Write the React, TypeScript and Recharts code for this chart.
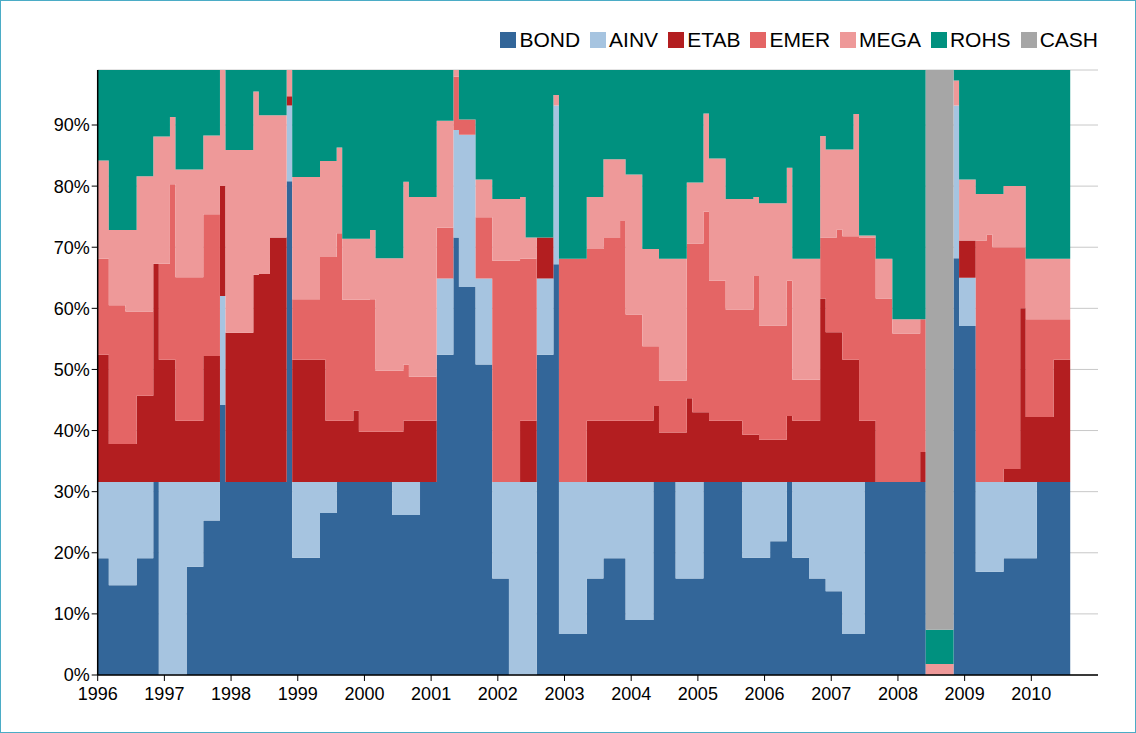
import { AreaChart, Area, XAxis, YAxis, CartesianGrid } from "recharts"

// month of each allocation change (values hold until the next date)
const dates = [
  "1996-01", "1996-03", "1996-06", "1996-08", "1996-11", "1996-12", "1997-02", "1997-03", "1997-05", "1997-08",
  "1997-11", "1997-12", "1998-05", "1998-06", "1998-08", "1998-11", "1998-12", "1999-05", "1999-06", "1999-08",
  "1999-09", "1999-11", "1999-12", "2000-02", "2000-03", "2000-06", "2000-08", "2000-09", "2000-11", "2001-02",
  "2001-05", "2001-06", "2001-09", "2001-12", "2002-03", "2002-05", "2002-06", "2002-08", "2002-11", "2002-12",
  "2003-05", "2003-08", "2003-11", "2003-12", "2004-03", "2004-05", "2004-06", "2004-09", "2004-11", "2004-12",
  "2005-02", "2005-03", "2005-06", "2005-09", "2005-11", "2005-12", "2006-02", "2006-05", "2006-06", "2006-09",
  "2006-11", "2006-12", "2007-02", "2007-03", "2007-05", "2007-06", "2007-07", "2007-09", "2007-12", "2008-05",
  "2008-06", "2008-11", "2008-12", "2009-03", "2009-05", "2009-06", "2009-08", "2009-11", "2009-12", "2010-02",
  "2010-05", "2010-08",
]

const BOND = [
  19.1, 14.7, 14.7, 19.1, 31.6, 0, 0, 0, 17.7, 25.3,
  44.2, 31.6, 31.6, 31.6, 31.6, 80.8, 19.2, 26.5, 26.5, 31.6,
  31.6, 31.6, 31.6, 31.6, 31.6, 26.2, 26.2, 26.2, 31.6, 52.4,
  71.6, 63.5, 50.8, 15.8, 0, 0, 0, 52.4, 67.2, 6.7,
  15.8, 19.1, 19.1, 9.0, 9.0, 31.6, 31.6, 15.8, 15.8, 15.8,
  31.6, 31.6, 31.6, 19.2, 19.2, 19.2, 21.9, 31.6, 19.2, 15.8,
  15.8, 13.7, 13.7, 6.7, 6.7, 6.7, 31.6, 31.6, 31.6, 31.6,
  0, 68.2, 57.1, 16.9, 16.9, 16.9, 19.1, 19.1, 19.1, 31.6,
  31.6, 31.6,
]
const AINV = [
  12.5, 16.9, 16.9, 12.5, 0, 31.6, 31.6, 31.6, 13.9, 6.3,
  17.8, 0, 0, 0, 0, 12.4, 12.4, 5.1, 5.1, 0,
  0, 0, 0, 0, 0, 5.4, 5.4, 5.4, 0, 12.5,
  17.6, 24.9, 14.1, 15.8, 31.6, 31.6, 31.6, 12.5, 26.0, 24.9,
  15.8, 12.5, 12.5, 22.6, 22.6, 0, 0, 15.8, 15.8, 15.8,
  0, 0, 0, 12.4, 12.4, 12.4, 9.7, 0, 12.4, 15.8,
  15.8, 17.9, 17.9, 24.9, 24.9, 24.9, 0, 0, 0, 0,
  0, 25.0, 7.9, 14.7, 14.7, 14.7, 12.5, 12.5, 12.5, 0,
  0, 0,
]
const ETAB = [
  20.8, 6.2, 6.2, 14.1, 35.7, 20.0, 20.0, 10.0, 10.0, 20.6,
  18.0, 24.4, 33.9, 34.0, 40.0, 1.5, 20.0, 20.0, 10.0, 10.0,
  10.0, 11.7, 8.2, 8.2, 8.2, 8.2, 10.0, 10.0, 10.0, 0,
  0, 0, 0, 0, 0, 10.0, 10.0, 6.7, 0, 0,
  10.0, 10.0, 10.0, 10.0, 10.0, 12.4, 8.1, 8.1, 13.7, 11.4,
  11.4, 10.0, 10.0, 7.7, 7.7, 6.9, 6.9, 10.8, 10.0, 10.0,
  30.0, 24.5, 24.5, 20.0, 20.0, 10.0, 10.0, 0, 0, 4.9,
  0, 0, 6.1, 0, 0, 0, 2.1, 28.4, 10.6, 10.6,
  20.0, 20.0,
]
const EMER = [
  15.7, 22.7, 21.7, 13.8, 0, 15.7, 28.7, 23.5, 23.5, 23.2,
  0, 0, 0, 0, 0, 0, 9.9, 16.8, 26.8, 30.7,
  19.8, 18.1, 21.6, 21.7, 10.0, 10.0, 9.2, 7.2, 7.2, 8.3,
  8.7, 2.5, 10.0, 36.2, 36.2, 26.5, 26.5, 0, 0, 36.5,
  28.1, 29.9, 32.7, 17.4, 12.2, 9.8, 8.5, 8.5, 25.3, 27.6,
  32.8, 22.9, 18.2, 20.5, 26.0, 18.7, 18.7, 22.1, 6.7, 6.7,
  10.0, 15.5, 16.8, 20.2, 20.2, 30.0, 30.0, 30.0, 24.3, 21.7,
  0, 0, 0, 39.5, 40.5, 38.4, 36.3, 10.0, 16.0, 16.0,
  6.6, 6.6,
]
const MEGA = [
  16.1, 12.3, 13.3, 22.1, 20.8, 20.8, 11.0, 17.6, 17.6, 12.9,
  19.0, 29.9, 30.0, 26.0, 20.0, 4.3, 20.0, 15.7, 15.7, 14.0,
  10.0, 10.0, 10.0, 11.3, 18.4, 18.4, 29.9, 29.4, 29.4, 17.5,
  1.1, 0, 6.2, 10.1, 10.1, 10.1, 3.5, 0, 1.7, 0,
  8.5, 12.9, 10.1, 22.9, 15.9, 15.9, 19.9, 19.9, 10.0, 10.0,
  16.1, 20.0, 18.1, 18.1, 12.9, 20.0, 20.0, 18.5, 19.8, 19.8,
  16.6, 14.4, 13.1, 14.2, 20.0, 0.3, 0.3, 6.5, 2.3, 0,
  1.8, 4.1, 10.0, 7.6, 6.6, 8.7, 10.0, 10.0, 9.9, 9.9,
  9.9, 9.9,
]
const ROHS = [
  14.8, 26.2, 26.2, 17.4, 10.9, 10.9, 7.7, 16.3, 16.3, 10.7,
  0, 13.1, 3.5, 7.4, 7.4, 0, 17.5, 14.9, 14.9, 12.7,
  27.6, 27.6, 27.6, 26.2, 30.8, 30.8, 18.3, 20.8, 20.8, 8.3,
  0, 8.1, 17.9, 21.1, 21.1, 20.8, 27.4, 27.4, 4.1, 30.9,
  20.8, 14.6, 14.6, 17.1, 29.3, 29.3, 30.9, 30.9, 18.4, 18.4,
  7.1, 14.5, 21.1, 21.1, 20.8, 21.8, 21.8, 16.0, 30.9, 30.9,
  10.8, 13.0, 13.0, 13.0, 7.2, 27.1, 27.1, 30.9, 40.8, 40.8,
  5.6, 1.7, 17.9, 20.3, 20.3, 20.3, 19.0, 19.0, 30.9, 30.9,
  30.9, 30.9,
]
const CASH = [
  0, 0, 0, 0, 0, 0, 0, 0, 0, 0,
  0, 0, 0, 0, 0, 0, 0, 0, 0, 0,
  0, 0, 0, 0, 0, 0, 0, 0, 0, 0,
  0, 0, 0, 0, 0, 0, 0, 0, 0, 0,
  0, 0, 0, 0, 0, 0, 0, 0, 0, 0,
  0, 0, 0, 0, 0, 0, 0, 0, 0, 0,
  0, 0, 0, 0, 0, 0, 0, 0, 0, 0,
  91.6, 0, 0, 0, 0, 0, 0, 0, 0, 0,
  0, 0,
]

const seriesNames = ["BOND", "AINV", "ETAB", "EMER", "MEGA", "ROHS", "CASH"]
const seriesValues = [BOND, AINV, ETAB, EMER, MEGA, ROHS, CASH]
const colors = ["#336699", "#A6C4E0", "#B31E20", "#E46565", "#EE9999", "#00917F", "#A6A6A6"]

const yearTicks = [1996, 1997, 1998, 1999, 2000, 2001, 2002, 2003, 2004, 2005, 2006, 2007, 2008, 2009, 2010]
const percentTicks = [0, 10, 20, 30, 40, 50, 60, 70, 80, 90]

const START_YEAR = 1996
const toMonth = (d: string) => {
  const [y, m] = d.split("-").map(Number)
  return (y - START_YEAR) * 12 + (m - 1)
}

const data = dates.map((d, i) => {
  const row: Record<string, number> = { t: toMonth(d) }
  seriesNames.forEach((name, k) => {
    row[name] = seriesValues[k][i]
  })
  return row
})

const font = "'Liberation Sans', Arial, sans-serif"
const tickStyle = { fill: "#000", fontSize: 18, fontFamily: font }

export default function App() {
  return (
    <div
      style={{
        position: "absolute",
        left: 0,
        top: 0,
        width: 1136,
        height: 733,
        background: "#fff",
        border: "1px solid #4BACC6",
        boxSizing: "border-box",
        fontFamily: font,
      }}
    >
      {/* legend */}
      <div
        style={{
          position: "absolute",
          top: 27,
          right: 37,
          display: "flex",
          alignItems: "center",
          fontSize: 21,
          color: "#000",
          gap: 10,
        }}
      >
        {seriesNames.map((name, k) => (
          <div key={name} style={{ display: "flex", alignItems: "center" }}>
            <span style={{ width: 16, height: 16, background: colors[k], marginRight: 3, display: "inline-block" }} />
            <span>{name}</span>
          </div>
        ))}
      </div>

      <div style={{ position: "absolute", left: -1, top: -1 }}>
        <AreaChart width={1136} height={733} data={data} margin={{ top: 70, right: 38, bottom: 28, left: 37.7 }}>
          <CartesianGrid vertical={false} stroke="#C8C8C8" />
          <XAxis
            dataKey="t"
            type="number"
            domain={[0, 180]}
            ticks={yearTicks.map((y) => (y - START_YEAR) * 12)}
            tickFormatter={(v: number) => String(START_YEAR + v / 12)}
            tick={tickStyle}
            tickSize={6}
            tickMargin={6}
            tickLine={{ stroke: "#000" }}
            axisLine={{ stroke: "#000", strokeWidth: 1.5 }}
            height={30}
            interval={0}
          />
          <YAxis
            type="number"
            domain={[0, 99]}
            ticks={percentTicks}
            tickFormatter={(v: number) => `${v}%`}
            tick={tickStyle}
            tickSize={6}
            tickLine={{ stroke: "#000" }}
            axisLine={{ stroke: "#000", strokeWidth: 1.5 }}
            width={60}
            allowDataOverflow
          />
          {seriesNames.map((name, k) => (
            <Area
              key={name}
              dataKey={name}
              stackId="1"
              type="stepAfter"
              fill={colors[k]}
              fillOpacity={1}
              stroke="none"
              isAnimationActive={false}
              dot={false}
              activeDot={false}
            />
          ))}
        </AreaChart>
      </div>
    </div>
  )
}
